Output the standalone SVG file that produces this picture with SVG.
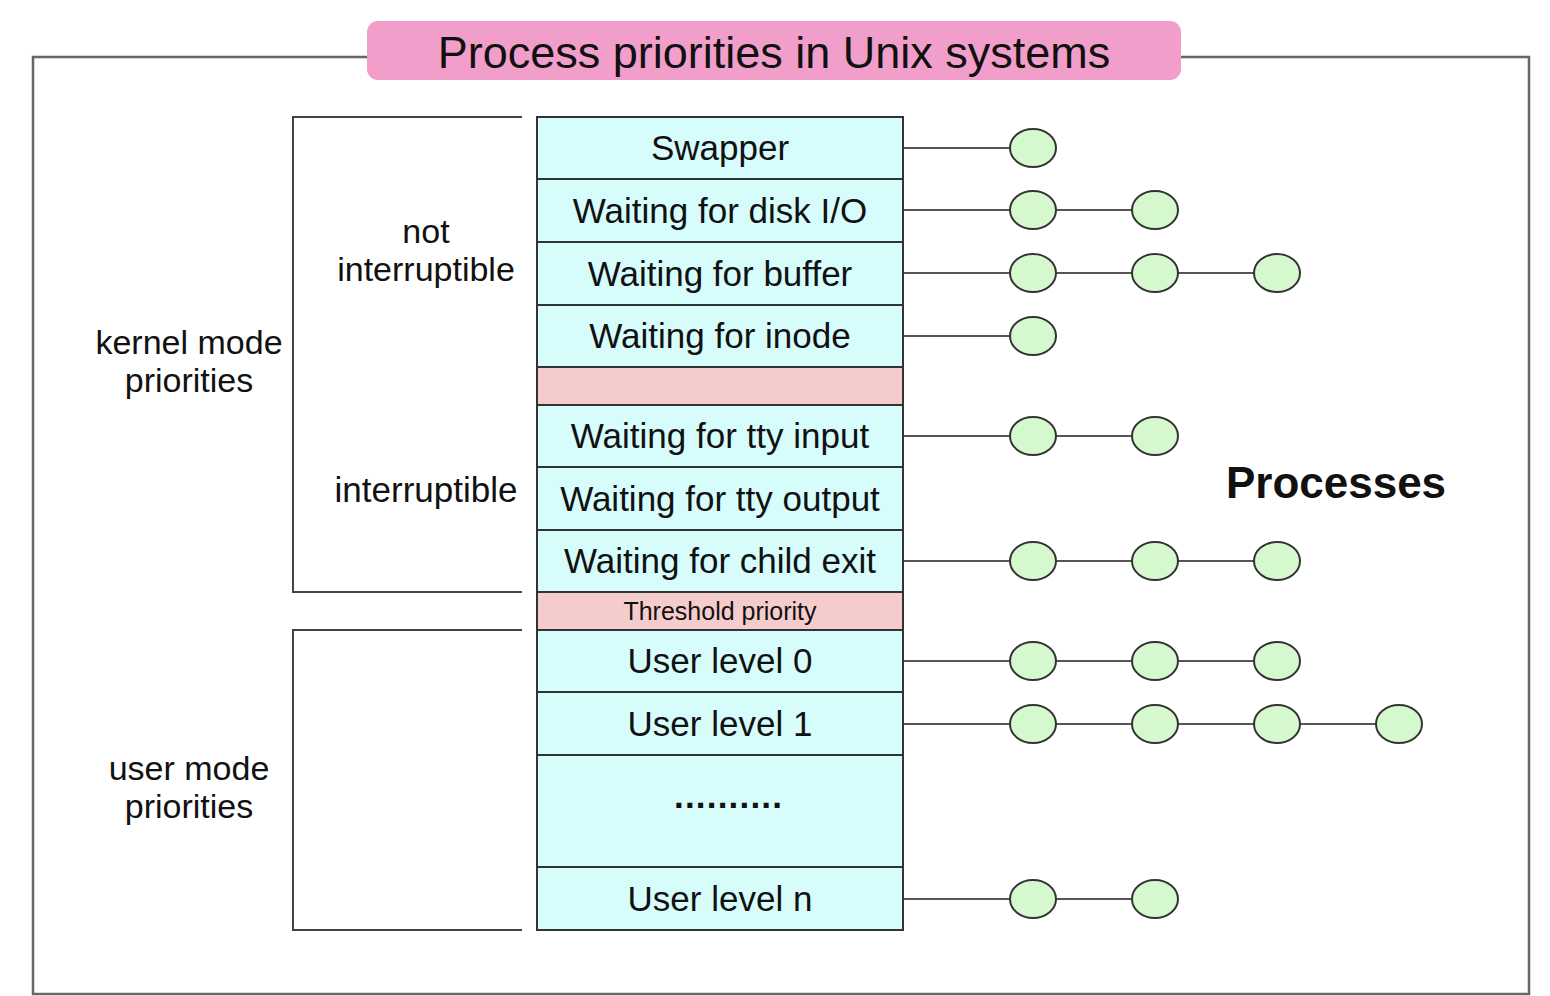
<svg xmlns="http://www.w3.org/2000/svg" width="1550" height="996" viewBox="0 0 1550 996">
<style>
text{font-family:"Liberation Sans",Arial,Helvetica,sans-serif;fill:#111;}
.t{font-size:35px;text-anchor:middle;}
.l2{font-size:34px;text-anchor:middle;}
.row{fill:#d6fcfc;stroke:#333;stroke-width:2;}
.pink{fill:#f5cccc;stroke:#333;stroke-width:2;}
.frame{fill:none;stroke:#666;stroke-width:2.5;}
.br{fill:none;stroke:#444;stroke-width:2;}
.ln{stroke:#555;stroke-width:2;fill:none;}
.p{fill:#d6f8cf;stroke:#333;stroke-width:2;}
</style>
<rect width="1550" height="996" fill="#fff"/>
<g id="frame">
<polyline class="frame" points="367,57 33,57 33,994 1529,994 1529,57 1181,57"/>
</g>
<g id="title">
<rect x="367" y="21" width="814" height="59" rx="11" fill="#f19fca"/>
<text x="774" y="68" style="font-size:45px;text-anchor:middle">Process priorities in Unix systems</text>
</g>
<g id="brackets">
<polyline class="br" points="522,117 293,117 293,592 522,592"/>
<polyline class="br" points="522,630 293,630 293,930 522,930"/>
</g>
<g id="labels">
<text class="l2" x="189" y="354">kernel mode</text>
<text class="l2" x="189" y="392">priorities</text>
<text class="l2" x="426" y="243">not</text>
<text class="l2" x="426" y="281">interruptible</text>
<text class="t" x="426" y="502">interruptible</text>
<text class="l2" x="189" y="780">user mode</text>
<text class="l2" x="189" y="818">priorities</text>
<text x="1336" y="498" style="font-size:44px;font-weight:bold;text-anchor:middle">Processes</text>
</g>
<g id="connectors">
<line class="ln" x1="903" y1="148" x2="1032" y2="148"/>
<line class="ln" x1="903" y1="210" x2="1155" y2="210"/>
<line class="ln" x1="903" y1="273" x2="1277" y2="273"/>
<line class="ln" x1="903" y1="336" x2="1032" y2="336"/>
<line class="ln" x1="903" y1="436" x2="1155" y2="436"/>
<line class="ln" x1="903" y1="561" x2="1277" y2="561"/>
<line class="ln" x1="903" y1="661" x2="1277" y2="661"/>
<line class="ln" x1="903" y1="724" x2="1399" y2="724"/>
<line class="ln" x1="903" y1="899" x2="1155" y2="899"/>
</g>
<g id="table">
<g id="swapper"><rect class="row" x="537" y="117" width="366" height="62"/><text class="t" x="720" y="160">Swapper</text></g>
<g id="disk"><rect class="row" x="537" y="179" width="366" height="63"/><text class="t" x="720" y="223">Waiting for disk I/O</text></g>
<g id="buffer"><rect class="row" x="537" y="242" width="366" height="63"/><text class="t" x="720" y="286">Waiting for buffer</text></g>
<g id="inode"><rect class="row" x="537" y="305" width="366" height="62"/><text class="t" x="720" y="348">Waiting for inode</text></g>
<g id="gap"><rect class="pink" x="537" y="367" width="366" height="38"/></g>
<g id="ttyin"><rect class="row" x="537" y="405" width="366" height="62"/><text class="t" x="720" y="448">Waiting for tty input</text></g>
<g id="ttyout"><rect class="row" x="537" y="467" width="366" height="63"/><text class="t" x="720" y="511">Waiting for tty output</text></g>
<g id="child"><rect class="row" x="537" y="530" width="366" height="62"/><text class="t" x="720" y="573">Waiting for child exit</text></g>
<g id="threshold"><rect class="pink" x="537" y="592" width="366" height="38"/><text x="720" y="620" style="font-size:25px;text-anchor:middle">Threshold priority</text></g>
<g id="user0"><rect class="row" x="537" y="630" width="366" height="62"/><text class="t" x="720" y="673">User level 0</text></g>
<g id="user1"><rect class="row" x="537" y="692" width="366" height="63"/><text class="t" x="720" y="736">User level 1</text></g>
<g id="dots"><rect class="row" x="537" y="755" width="366" height="112"/><text x="728" y="808" textLength="108" lengthAdjust="spacing" style="font-size:35px;font-weight:bold;text-anchor:middle">..........</text></g>
<g id="usern"><rect class="row" x="537" y="867" width="366" height="63"/><text class="t" x="720" y="911">User level n</text></g>
</g>
<g id="processes">
<ellipse class="p" cx="1033" cy="148" rx="23" ry="19"/>
<ellipse class="p" cx="1033" cy="210" rx="23" ry="19"/>
<ellipse class="p" cx="1155" cy="210" rx="23" ry="19"/>
<ellipse class="p" cx="1033" cy="273" rx="23" ry="19"/>
<ellipse class="p" cx="1155" cy="273" rx="23" ry="19"/>
<ellipse class="p" cx="1277" cy="273" rx="23" ry="19"/>
<ellipse class="p" cx="1033" cy="336" rx="23" ry="19"/>
<ellipse class="p" cx="1033" cy="436" rx="23" ry="19"/>
<ellipse class="p" cx="1155" cy="436" rx="23" ry="19"/>
<ellipse class="p" cx="1033" cy="561" rx="23" ry="19"/>
<ellipse class="p" cx="1155" cy="561" rx="23" ry="19"/>
<ellipse class="p" cx="1277" cy="561" rx="23" ry="19"/>
<ellipse class="p" cx="1033" cy="661" rx="23" ry="19"/>
<ellipse class="p" cx="1155" cy="661" rx="23" ry="19"/>
<ellipse class="p" cx="1277" cy="661" rx="23" ry="19"/>
<ellipse class="p" cx="1033" cy="724" rx="23" ry="19"/>
<ellipse class="p" cx="1155" cy="724" rx="23" ry="19"/>
<ellipse class="p" cx="1277" cy="724" rx="23" ry="19"/>
<ellipse class="p" cx="1399" cy="724" rx="23" ry="19"/>
<ellipse class="p" cx="1033" cy="899" rx="23" ry="19"/>
<ellipse class="p" cx="1155" cy="899" rx="23" ry="19"/>
</g>
</svg>
